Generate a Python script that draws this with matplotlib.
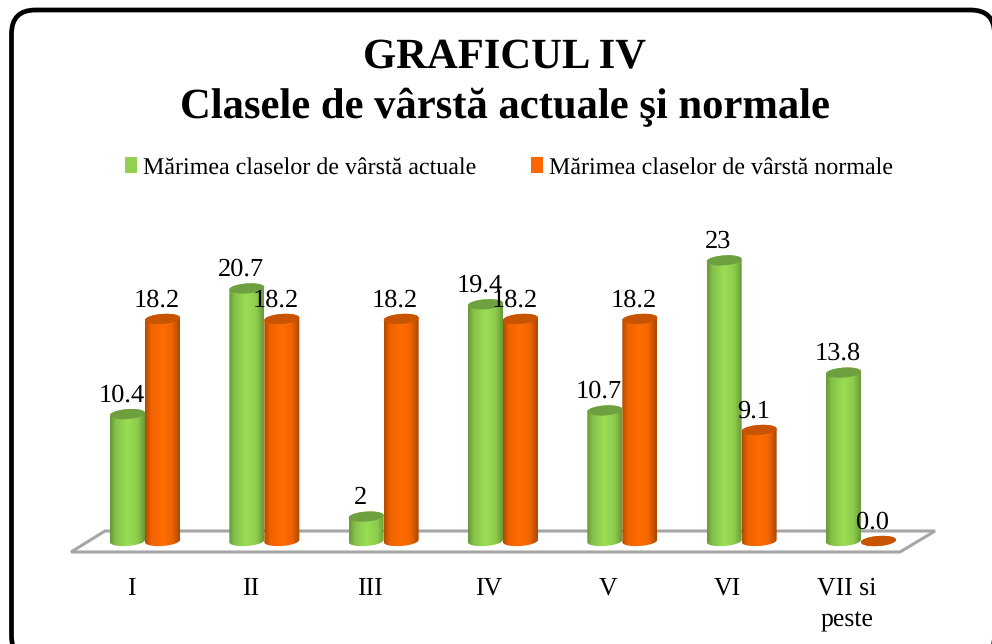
import numpy as np
import matplotlib
matplotlib.use('Agg')
import matplotlib.pyplot as plt
from matplotlib.colors import LinearSegmentedColormap
from matplotlib.patches import FancyBboxPatch, PathPatch, Polygon
from matplotlib.path import Path

plt.rcParams['font.family'] = ['Liberation Serif', 'DejaVu Serif']
plt.rcParams['text.hinting'] = 'none'

categories = ['I', 'II', 'III', 'IV', 'V', 'VI', 'VII si\npeste']
actual = [10.4, 20.7, 2, 19.4, 10.7, 23, 13.8]
normal = [18.2, 18.2, 18.2, 18.2, 18.2, 9.1, 0.0]
actual_labels = ['10.4', '20.7', '2', '19.4', '10.7', '23', '13.8']
normal_labels = ['18.2', '18.2', '18.2', '18.2', '18.2', '9.1', '0.0']
actual_name = 'Mărimea claselor de vârstă actuale'
normal_name = 'Mărimea claselor de vârstă normale'
title = 'GRAFICUL IV\nClasele de vârstă actuale şi normale'

W, H = 992, 644
PX_X = 119.33   # pixels per category
PX_Y = 12.2     # pixels per value unit
X0 = 145        # pixel of first group centre
Y0 = 541        # pixel of value zero
AX_BOTTOM = 556 # pixel where the axes end, below the bar feet
BAR = 35 / PX_X
CAP = 10 / PX_Y
TILT = 1.2 / PX_Y

green_map = LinearSegmentedColormap.from_list('g', [(0, '#689838'), (0.16, '#86c24a'), (0.5, '#9ade54'),
                                                    (0.8, '#8ccb4c'), (1, '#689838')])
orange_map = LinearSegmentedColormap.from_list('o', [(0, '#b04c00'), (0.16, '#ee6200'), (0.5, '#ff6c00'),
                                                     (0.78, '#f06400'), (1, '#a84800')])
shade = np.linspace(0, 1, 64).reshape(1, -1)

fig = plt.figure(figsize=(W / 100, H / 100), dpi=100, facecolor='white')

# pixel layer for frame and floor
bg = fig.add_axes([0, 0, 1, 1], zorder=0)
bg.set_xlim(0, W)
bg.set_ylim(H, 0)
bg.axis('off')
bg.add_patch(FancyBboxPatch((11.5, 10), 983, 650, boxstyle='round,pad=0,rounding_size=24',
                            fc='white', ec='black', lw=3.4))
bg.add_patch(Polygon([(71, 552), (105, 531), (935, 531), (900, 552)], closed=True,
                     fc='white', ec='#a6a6a6', lw=2.2))

ax = fig.add_axes([0, (H - AX_BOTTOM) / H, 1, AX_BOTTOM / H], zorder=1)
ax.patch.set_alpha(0)


def ring(x, v, t):
    return np.column_stack([x + BAR / 2 * np.cos(t), v + CAP / 2 * np.sin(t) + TILT * np.cos(t)])


def cylinders(xs, values, cmap, cap_color, mid_color, name):
    # plain bars underneath, the gradient and the caps go on top
    bars = ax.bar(xs, values, BAR * 0.96, color=mid_color, label=name, zorder=2)
    for x, v in zip(xs, values):
        low = ring(x, 0, np.linspace(np.pi, 2 * np.pi, 40))
        top = ring(x, v, np.linspace(0, np.pi, 40))
        clip = PathPatch(Path(np.vstack([low, top, low[:1]])), transform=ax.transData, fc='none', ec='none')
        ax.add_patch(clip)
        im = ax.imshow(shade, cmap=cmap, extent=(x - BAR / 2, x + BAR / 2, -CAP, max(v + CAP, 0.01)),
                       aspect='auto', zorder=2, interpolation='bilinear')
        im.set_clip_path(clip)
        ax.add_patch(Polygon(ring(x, v, np.linspace(0, 2 * np.pi, 60)), closed=True,
                             fc=cap_color, ec='none', zorder=2))
    return bars


x = np.arange(len(categories))
green_bars = cylinders(x - BAR / 2, actual, green_map, '#6fa03f', '#92d050', actual_name)
orange_bars = cylinders(x + BAR / 2, normal, orange_map, '#c85400', '#ff6600', normal_name)

for xs, values, labels in [(x - BAR / 2, actual, actual_labels), (x + BAR / 2, normal, normal_labels)]:
    for a, v, s in zip(xs, values, labels):
        ax.annotate(s, (a, v), xytext=(-6 * 0.72, 19 * 0.72), textcoords='offset points',
                    ha='center', va='center', fontsize=19, color='black', zorder=5)

ax.set_xlim(-X0 / PX_X, (W - X0) / PX_X)
ax.set_ylim(-(AX_BOTTOM - Y0) / PX_Y, Y0 / PX_Y)
ax.set_xticks(x - 14 / PX_X, categories, fontsize=18.5, linespacing=1.42)
ax.tick_params(axis='x', length=0, pad=15)
ax.set_yticks([])
for s in ax.spines.values():
    s.set_visible(False)

ax.legend([green_bars, orange_bars], [actual_name, normal_name], loc='center', bbox_to_anchor=(509 / W, 1 - 168 / H),
          bbox_transform=fig.transFigure, ncols=2, frameon=False, fontsize=17.3, handlelength=0.5,
          handleheight=0.65, handletextpad=0.22, columnspacing=2.3, borderpad=0)

fig.text(504.5 / W, 1 - 83 / H, title, ha='center', va='center', fontsize=30.7,
         fontweight='bold', linespacing=1.35, zorder=6)

fig.savefig('out.png', dpi=100)
